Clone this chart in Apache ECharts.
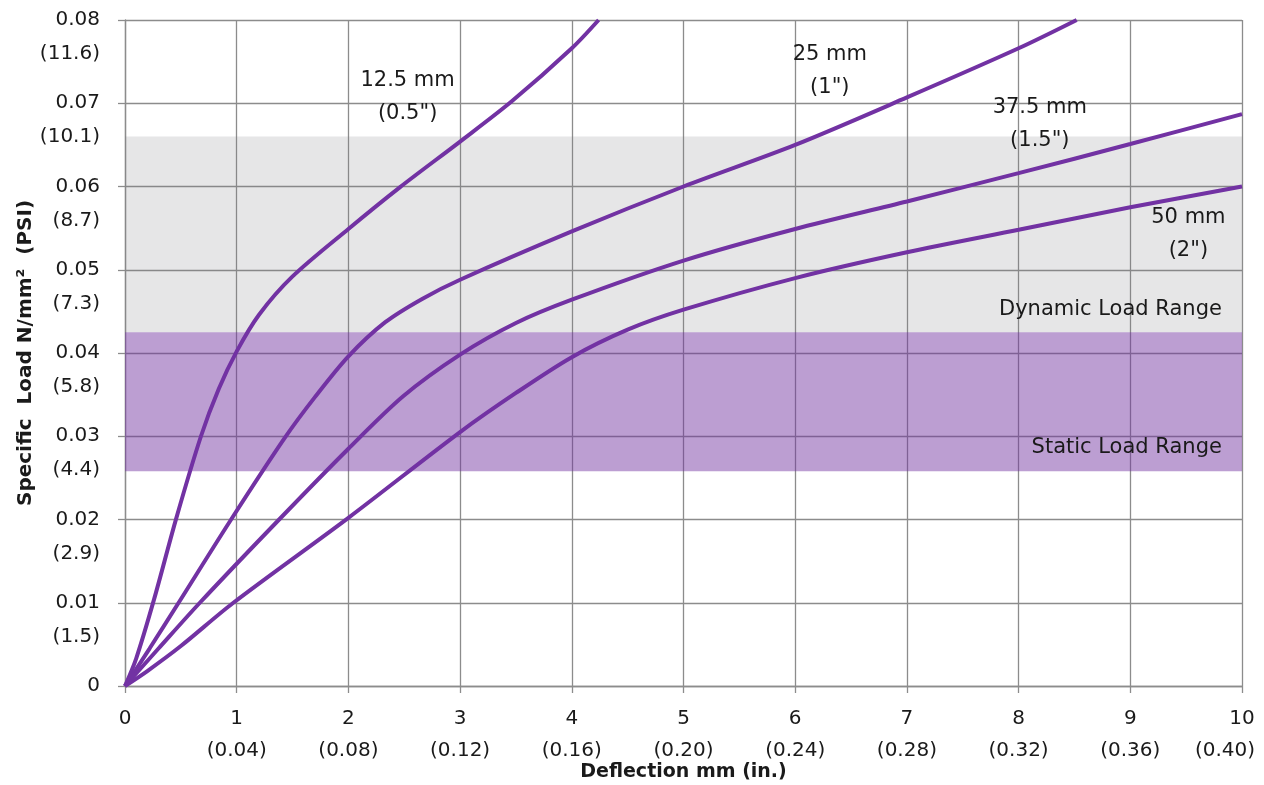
<!DOCTYPE html>
<html><head><meta charset="utf-8">
<script src="https://cdn.jsdelivr.net/npm/echarts@6/dist/echarts.min.js"></script>
<style>html,body{margin:0;padding:0;background:#fff}#c{width:1264px;height:785px}</style>
</head><body><div id="c"></div>
<script>
// Deflection (mm) vs specific load (N/mm2), one array per pad thickness
const s125 = [[0,0],[0.1,0.0033],[0.26,0.0104],[0.46,0.0202],[0.68,0.03],[0.84,0.0357],[1.0,0.0402],[1.2,0.0446],[1.5,0.0492],[2.0,0.0549],[2.46,0.0599],[3.0,0.0654],[3.46,0.0702],[4.0,0.0766],[4.24,0.08]];
const s25  = [[0,0],[0.22,0.0045],[0.48,0.01],[0.95,0.02],[1.43,0.0298],[1.7,0.0347],[2.0,0.0396],[2.33,0.0437],[2.66,0.0465],[3.0,0.0488],[4.0,0.0546],[5.0,0.06],[6.0,0.065],[7.0,0.0707],[8.0,0.0766],[8.52,0.08]];
const s375 = [[0,0],[0.3,0.0045],[0.67,0.01],[1.38,0.02],[2.0,0.0285],[2.49,0.0348],[3.0,0.0398],[3.5,0.0436],[4.0,0.0464],[5.0,0.0511],[6.0,0.0549],[7.0,0.0582],[8.0,0.0616],[9.0,0.0651],[10.0,0.0687]];
const s50  = [[0,0],[0.2,0.0018],[0.5,0.0048],[0.97,0.01],[2.0,0.0202],[3.0,0.0305],[3.5,0.0352],[4.0,0.0395],[4.5,0.0428],[5.0,0.0452],[6.0,0.049],[7.0,0.0521],[8.0,0.0548],[9.0,0.0575],[10.0,0.06]];
const seriesNames = ['12.5 mm','25 mm','37.5 mm','50 mm'];
const curveLabels = [['12.5 mm','(0.5")',2.53,0.0707],['25 mm','(1")',6.31,0.0739],['37.5 mm','(1.5")',8.19,0.0675],['50 mm','(2")',9.52,0.0543]];
const xTicks = ['0','1','2','3','4','5','6','7','8','9','10'];
const xInch  = ['','(0.04)','(0.08)','(0.12)','(0.16)','(0.20)','(0.24)','(0.28)','(0.32)','(0.36)','(0.40)'];
const yTicks = ['0','0.01','0.02','0.03','0.04','0.05','0.06','0.07','0.08'];
const yPsi   = ['','(1.5)','(2.9)','(4.4)','(5.8)','(7.3)','(8.7)','(10.1)','(11.6)'];
const staticRange = [0.0258,0.0425];
const dynamicRange = [0.0425,0.066];

const FONT = 'DejaVu Sans';
const TXT = '#1a1a1a';
const GRIDC = '#8c8c8c';
const lineColor = '#7232a3';
const chart = echarts.init(document.getElementById('c'));
function lineSeries(name, data){
  return {name, type:'line', data, smooth:0.3, symbol:'none', clip:true,
    xAxisIndex:0, yAxisIndex:0,
    lineStyle:{color:lineColor, width:4}, z:5};
}
const hidden = {axisLine:{show:false},axisTick:{show:false},splitLine:{show:false}};
chart.setOption({
  animation:false,
  textStyle:{fontFamily:FONT},
  grid:{left:125,right:22,top:20,bottom:99,containLabel:false,outerBoundsMode:'none'},
  xAxis:[
    {type:'value',min:0,max:10,interval:1,
      name:'Deflection mm (in.)',nameLocation:'middle',nameGap:77,nameMoveOverlap:false,
      nameTextStyle:{fontFamily:FONT,fontWeight:'bold',fontSize:19,color:TXT},
      axisLine:{show:true,lineStyle:{color:GRIDC,width:1.3}},
      axisTick:{show:true,length:7,lineStyle:{color:GRIDC,width:1.3}},
      splitLine:{show:true,lineStyle:{color:GRIDC,width:1.3}},
      axisLabel:{margin:23,color:TXT,fontSize:20,fontFamily:FONT,showMaxLabel:true,showMinLabel:true,
        formatter:v=>xTicks[Math.round(v)]}
    },
    Object.assign({type:'value',min:0,max:10,interval:1,position:'bottom',
      axisLabel:{margin:55,color:TXT,fontSize:20,fontFamily:FONT,showMaxLabel:true,showMinLabel:true,
        formatter:v=>{const i=Math.round(v);return i===10?'{last|'+xInch[i]+'}':xInch[i];},
        rich:{last:{fontSize:20,fontFamily:FONT,color:TXT,padding:[0,34,0,0]}}}
    },hidden)
  ],
  yAxis:[
    {type:'value',min:0,max:0.08,interval:0.01,
      name:'Specific  Load N/mm²  (PSI)',nameLocation:'middle',nameGap:89,nameRotate:90,nameMoveOverlap:false,
      nameTextStyle:{fontFamily:FONT,fontWeight:'bold',fontSize:20,color:TXT},
      axisLine:{show:true,lineStyle:{color:GRIDC,width:1.3}},
      axisTick:{show:true,length:7,lineStyle:{color:GRIDC,width:1.3}},
      splitLine:{show:true,lineStyle:{color:GRIDC,width:1.3}},
      axisLabel:{margin:25,color:TXT,fontSize:20,fontFamily:FONT,showMaxLabel:true,showMinLabel:true,
        formatter:v=>yTicks[Math.round(v*100)]}
    },
    Object.assign({type:'value',min:0,max:0.08,interval:0.01,position:'left',
      axisLabel:{margin:25,color:TXT,fontSize:20,fontFamily:FONT,showMaxLabel:true,showMinLabel:true,
        verticalAlign:'top',lineHeight:22,padding:[23,0,0,0],
        formatter:v=>yPsi[Math.round(v*100)]}
    },hidden)
  ],
  series:[
    {type:'line',data:[],silent:true,xAxisIndex:0,yAxisIndex:0,
      markArea:{silent:true,data:[
        [{yAxis:dynamicRange[0],itemStyle:{color:'rgba(120,120,125,0.19)'}},{yAxis:dynamicRange[1]}],
        [{yAxis:staticRange[0],itemStyle:{color:'rgba(112,48,160,0.47)'}},{yAxis:staticRange[1]}]
      ]},
      markPoint:{symbol:'circle',symbolSize:0,silent:true,
        label:{show:true,fontFamily:FONT,fontSize:21,color:TXT,lineHeight:33},
        data:[
          ...curveLabels.map(c=>({coord:[c[2],c[3]],label:{formatter:c[0]+'\n'+c[1],align:'center',verticalAlign:'middle'}})),
          {coord:[9.82,0.0452],label:{formatter:'Dynamic Load Range',align:'right',verticalAlign:'middle'}},
          {coord:[9.82,0.0286],label:{formatter:'Static Load Range',align:'right',verticalAlign:'middle'}}
        ]}
    },
    lineSeries(seriesNames[0], s125),
    lineSeries(seriesNames[1], s25),
    lineSeries(seriesNames[2], s375),
    lineSeries(seriesNames[3], s50)
  ]
});
</script></body></html>
